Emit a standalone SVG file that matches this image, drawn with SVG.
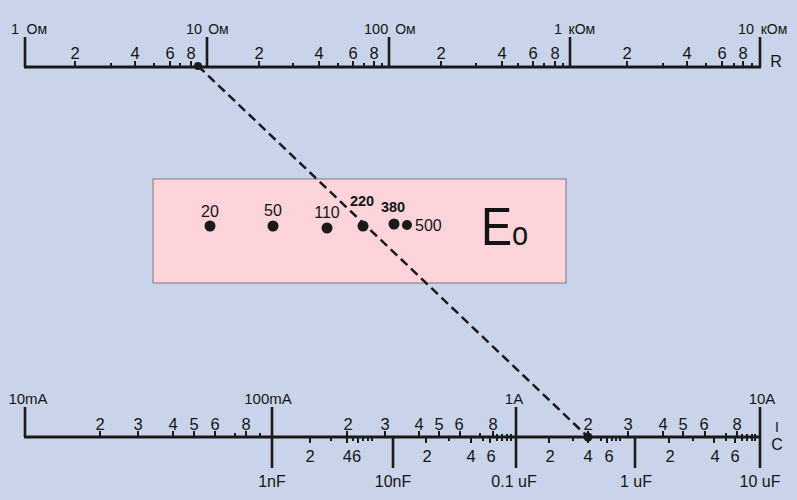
<svg xmlns="http://www.w3.org/2000/svg" width="797" height="500" viewBox="0 0 797 500">
<style>
text{font-family:"Liberation Sans",Arial,sans-serif;fill:#141414}
.n{font-size:14.5px}
.u{font-size:14px}
.t{font-size:16.5px;text-anchor:middle}
.d{font-size:15px;text-anchor:middle}
.base{stroke:#1a1a1a;stroke-width:3;fill:none}
.maj{stroke:#1a1a1a;stroke-width:2.6}
.tk{stroke:#1a1a1a;stroke-width:2}
.dot{fill:#1a1a1a}
</style>
<rect width="797" height="500" fill="#c9d4ea"/>

<g id="scale-R">
<line class="base" x1="24" y1="67" x2="761" y2="67"/>
<g class="maj">
<line x1="25" y1="37" x2="25" y2="67"/>
<line x1="207" y1="37" x2="207" y2="67"/>
<line x1="389" y1="37" x2="389" y2="67"/>
<line x1="570" y1="37" x2="570" y2="67"/>
<line x1="760" y1="37" x2="760" y2="67"/>
</g>
<path class="tk" d="M75 61V67M135 61V67M170 61V67M191 61V67M259 61V67M319 61V67M353 61V67M374 61V67M441 61V67M502 61V67M533 61V67M555 61V67M627 61V67M687 61V67M722 61V67M743 61V67"/>
<path class="tk" d="M111 63V67M154 63V67M180 63V67M293 63V67M338 63V67M364 63V67M382 63V67M476 63V67M518 63V67M544 63V67M563 63V67M663 63V67M706 63V67M734 63V67M752 63V67"/>
<g class="t">
<text x="75" y="59">2</text><text x="135" y="59">4</text><text x="170" y="59">6</text><text x="191" y="59">8</text>
<text x="259" y="59">2</text><text x="319" y="59">4</text><text x="353" y="59">6</text><text x="374" y="59">8</text>
<text x="441" y="59">2</text><text x="502" y="59">4</text><text x="533" y="59">6</text><text x="555" y="59">8</text>
<text x="627" y="59">2</text><text x="687" y="59">4</text><text x="722" y="59">6</text><text x="743" y="59">8</text>
</g>
<text class="n" x="11" y="34">1 <tspan class="u" dx="3.5">Ом</tspan></text>
<text class="n" x="186" y="34">10 <tspan class="u" dx="2">Ом</tspan></text>
<text class="n" x="364" y="34">100 <tspan class="u" dx="3">Ом</tspan></text>
<text class="n" x="554" y="34">1 <tspan class="u" dx="2.5">кОм</tspan></text>
<text class="n" x="738" y="34">10 <tspan class="u" dx="2.5">кОм</tspan></text>
<text x="776" y="67" style="font-size:16px;text-anchor:middle">R</text>
</g>

<g id="eo-panel">
<rect x="153" y="179" width="413" height="104" fill="#fcd4da" stroke="#7a7a7a" stroke-width="1"/>
<circle class="dot" cx="210" cy="226" r="5.5"/>
<circle class="dot" cx="273" cy="226" r="5.5"/>
<circle class="dot" cx="327" cy="228" r="5.5"/>
<circle class="dot" cx="363" cy="226" r="5.5"/>
<circle class="dot" cx="394" cy="224" r="5.5"/>
<circle class="dot" cx="407" cy="225" r="5"/>
<g style="font-size:16px;text-anchor:middle">
<text x="210" y="217">20</text>
<text x="273" y="216">50</text>
<text x="327" y="218">110</text>
<text x="362" y="206" style="font-weight:bold;font-size:14.5px">220</text>
<text x="393" y="212" style="font-weight:bold;font-size:14.5px">380</text>
</g>
<text x="415" y="231" style="font-size:16px">500</text>
<text transform="translate(481,245) scale(0.88,1)" style="font-size:53px">E<tspan style="font-size:33px">o</tspan></text>
</g>

<g id="scale-IC">
<line class="base" x1="24" y1="437" x2="761" y2="437"/>
<g class="maj">
<line x1="25" y1="407" x2="25" y2="437"/>
<line x1="272" y1="407" x2="272" y2="468"/>
<line x1="516" y1="407" x2="516" y2="468"/>
<line x1="760" y1="407" x2="760" y2="468"/>
<line x1="393" y1="437" x2="393" y2="468"/>
<line x1="635" y1="437" x2="635" y2="468"/>
</g>
<path class="tk" d="M100 431V437M138 431V437M173 431V437M194 431V437M215 431V437M246 431V437M347 431V437M385 431V437M419 431V437M439 431V437M460 431V437M493 431V437M588 431V437M628 431V437M663 431V437M683 431V437M705 431V437M737 431V437"/>
<path class="tk" d="M235 433V437M260 433V437M480 433V437M726 433V437"/>
<path class="tk" d="M310 437V443M347 437V443M358 437V443M426 437V443M471 437V443M490 437V443M549 437V443M588 437V443M607 437V443M669 437V443M714 437V443M735 437V443"/>
<path class="tk" d="M331 437V441M353 437V441M363 437V441M368 437V441M372 437V441M449 437V441M483 437V441M497 434V441M502 434V441M507 434V441M511 434V441M573 437V441M601 437V441M612 437V441M616 437V441M620 437V441M693 437V441M726 437V441M742 434V441M747 434V441M752 434V441M755 434V441"/>
<g class="t">
<text x="100" y="430">2</text><text x="138" y="430">3</text><text x="173" y="430">4</text><text x="194" y="430">5</text><text x="215" y="430">6</text><text x="246" y="430">8</text>
<text x="348" y="430">2</text><text x="385" y="430">3</text><text x="419" y="430">4</text><text x="439" y="430">5</text><text x="459" y="430">6</text><text x="493" y="430">8</text>
<text x="588" y="430">2</text><text x="628" y="430">3</text><text x="663" y="430">4</text><text x="683" y="430">5</text><text x="704" y="430">6</text><text x="737" y="430">8</text>
<text x="310" y="462">2</text><text x="352" y="462">46</text>
<text x="427" y="462">2</text><text x="471" y="462">4</text><text x="491" y="462">6</text>
<text x="550" y="462">2</text><text x="588" y="462">4</text><text x="609" y="462">6</text>
<text x="670" y="462">2</text><text x="715" y="462">4</text><text x="735" y="462">6</text>
</g>
<g class="d">
<text x="28" y="404">10mA</text><text x="268" y="404">100mA</text><text x="514" y="404">1A</text><text x="762" y="404">10A</text>
<text x="272" y="487" style="font-size:16px">1nF</text><text x="393" y="487" style="font-size:16px">10nF</text><text x="514" y="487" style="font-size:16px">0.1 uF</text><text x="636" y="487" style="font-size:16px">1 uF</text><text x="760" y="487" style="font-size:16px">10 uF</text>
<text x="777" y="432" style="font-size:14px">I</text>
<text x="777" y="450" style="font-size:16px">C</text>
</g>
</g>

<g id="connectors">
<line x1="198" y1="66" x2="588" y2="437" stroke="#1a1a1a" stroke-width="2.5" stroke-dasharray="9 5"/>
<circle class="dot" cx="198" cy="66" r="4"/>
<circle class="dot" cx="588" cy="437" r="4.5"/>
</g>
</svg>
